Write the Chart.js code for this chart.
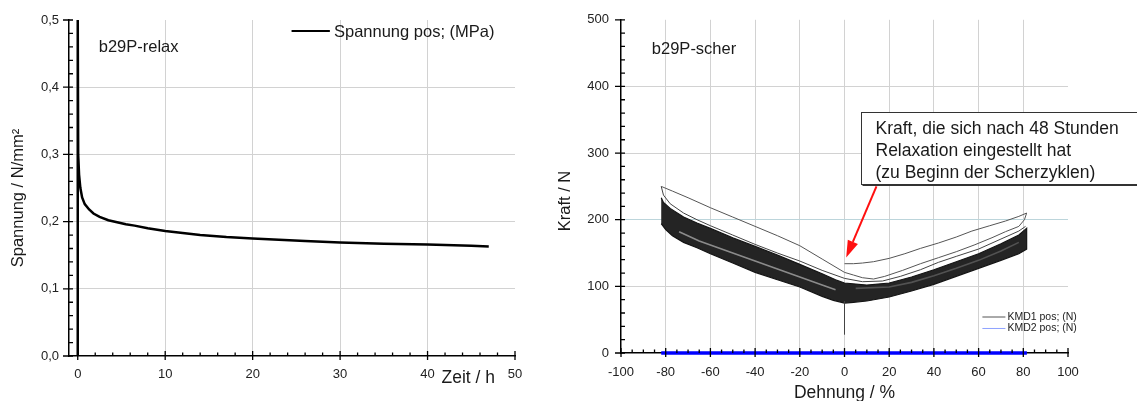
<!DOCTYPE html>
<html><head><meta charset="utf-8">
<script src="https://cdn.jsdelivr.net/npm/chart.js@4.4.1/dist/chart.umd.min.js"></script>
<style>
html,body{margin:0;padding:0;background:#fff;width:1137px;height:401px;overflow:hidden;}
canvas{position:absolute;top:0;}
#c1{left:0;} #c2{left:540px;}
</style></head><body>
<canvas id="c1" width="560" height="401"></canvas>
<canvas id="c2" width="597" height="401"></canvas>
<script>
// ---------- left panel: relaxation (Spannung vs Zeit) ----------
const relaxTime   = [0, 0, 0.05, 0.15, 0.3, 0.5, 0.8, 1.3, 1.8, 2.5, 3.5, 4.5, 5.5, 6.5, 8, 10, 12, 14, 17, 20, 23, 26, 30, 35, 40, 45, 47];
const relaxStress = [0, 0.5, 0.30, 0.27, 0.25, 0.236, 0.226, 0.218, 0.212, 0.207, 0.202, 0.199, 0.196, 0.194, 0.19, 0.186, 0.183, 0.18, 0.177, 0.175, 0.173, 0.171, 0.169, 0.167, 0.166, 0.164, 0.163];
const relaxXTicks = [0, 10, 20, 30, 40, 50];
const relaxXTickLabels = ['0', '10', '20', '30', '40', '50'];
const relaxYTicks = [0, 0.1, 0.2, 0.3, 0.4, 0.5];
const relaxYTickLabels = ['0,0', '0,1', '0,2', '0,3', '0,4', '0,5'];

// ---------- right panel: shear cycles (Kraft vs Dehnung) ----------
const shearXTicks = [-100, -80, -60, -40, -20, 0, 20, 40, 60, 80, 100];
const shearXTickLabels = ['-100', '-80', '-60', '-40', '-20', '0', '20', '40', '60', '80', '100'];
const shearYTicks = [0, 100, 200, 300, 400, 500];
const shearYTickLabels = ['0', '100', '200', '300', '400', '500'];

// first cycle after 48 h relaxation
const firstLoopStrain = [0, 4, 8, 13, 20, 27, 34, 42, 50, 57, 65, 72, 78, 81.5, 80.5, 78, 72, 66, 58, 50, 42, 34, 26, 18, 13, 8, 4, 0, -10, -20, -30, -40, -50, -60, -70, -77, -82];
const firstLoopForce  = [134, 134, 135, 137, 142, 149, 157, 165, 174, 183, 191, 198, 205, 210, 200, 190, 182, 173, 162, 152, 143, 134, 124, 115, 111, 113, 117, 121, 141, 161, 176, 190, 204, 218, 233, 243, 250];
// second cycle (thin line just above the dense band)
const secondLoopStrain = [-82, -81, -78, -72, -66, -60, -50, -40, -30, -20, -10, 0, 8, 17, 25, 34, 42, 50, 60, 70, 78, 81];
const secondLoopForce  = [250, 237, 224, 210, 200, 191, 177, 163, 150, 138, 124, 112, 107, 108, 115, 125, 136, 145, 156, 171, 183, 190];
// outline of the dense band of the remaining cycles
const bandStrain = [-82, -81, -78, -72, -66, -60, -50, -40, -30, -20, -10, -4, 0, 10, 20, 30, 40, 50, 60, 70, 78, 81.5, 81.5, 78, 70, 60, 50, 40, 30, 20, 10, 4, 0, -5, -10, -20, -30, -40, -50, -60, -66, -72, -77, -80, -82];
const bandForce  = [233, 226, 217, 204, 195, 187, 173, 160, 147, 133, 119, 110, 105, 102, 105, 114, 125, 137, 149, 164, 177, 187, 156, 149, 139, 127, 115, 103, 93, 84, 78, 76, 75, 79, 85, 99, 110, 121, 135, 149, 158, 166, 176, 185, 194];
// lighter streaks inside the band
const streakLeftStrain = [-74, -65, -60, -50, -40, -30, -20, -10, -4];
const streakLeftForce  = [182, 168, 162, 150, 138, 126, 114, 102, 95];
const streakRightStrain = [5, 20, 30, 40, 50, 60, 70, 78];
const streakRightForce  = [97, 99, 106, 116, 127, 139, 153, 166];
// short vertical trace at 0 %
const endStrain = [0, 0];
const endForce  = [78, 28];
// KMD2 channel
const kmd2Strain = [-82, 81.6];
const kmd2Force  = [0, 0];

const annotationLines = ['Kraft, die sich nach 48 Stunden', 'Relaxation eingestellt hat', '(zu Beginn der Scherzyklen)'];

const FONT = '"Liberation Sans", Arial, Helvetica, sans-serif';
Chart.defaults.font.family = FONT;

const toXY = (xs, ys) => xs.map((x, i) => ({ x, y: ys[i] }));

function subTicks(majors, n) {
  const out = [];
  for (let i = 0; i < majors.length - 1; i++) {
    const a = majors[i], b = majors[i + 1];
    for (let k = 1; k < n; k++) out.push(a + (b - a) * k / n);
  }
  return out;
}

function decorPlugin(spec) {
  return {
    id: 'decor',
    afterDraw(chart) {
      const { ctx, chartArea: ca, scales: { x, y } } = chart;
      ctx.save();
      ctx.strokeStyle = '#000';
      ctx.lineWidth = 1.3;
      ctx.beginPath();
      spec.xMajor.forEach(v => { const p = x.getPixelForValue(v); ctx.moveTo(p, ca.bottom - 5); ctx.lineTo(p, ca.bottom + 4); });
      subTicks(spec.xMajor, spec.xSub).forEach(v => { const p = x.getPixelForValue(v); ctx.moveTo(p, ca.bottom - 3.5); ctx.lineTo(p, ca.bottom); });
      spec.yMajor.forEach(v => { const p = y.getPixelForValue(v); ctx.moveTo(ca.left - 6, p); ctx.lineTo(ca.left + 4, p); });
      subTicks(spec.yMajor, spec.ySub).forEach(v => { const p = y.getPixelForValue(v); ctx.moveTo(ca.left, p); ctx.lineTo(ca.left + 4, p); });
      ctx.stroke();
      ctx.restore();
      ctx.save();
      spec.extra(chart, ctx);
      ctx.restore();
    }
  };
}

function gridColor(hidden, special) {
  return c => {
    if (!c.tick) return 'rgba(0,0,0,0)';
    if (hidden.includes(c.tick.value)) return 'rgba(0,0,0,0)';
    if (special && special.values.includes(c.tick.value)) return special.color;
    return '#d2d2d2';
  };
}

// ---------------- left chart ----------------
new Chart(document.getElementById('c1'), {
  type: 'line',
  data: {
    datasets: [{
      label: 'Spannung pos; (MPa)',
      data: toXY(relaxTime, relaxStress),
      borderColor: '#000', borderWidth: 2.5, pointRadius: 0, tension: 0, fill: false
    }]
  },
  options: {
    responsive: false, animation: false, devicePixelRatio: 1,
    layout: { padding: { left: 0, right: 45, top: 20, bottom: 0 } },
    plugins: { legend: { display: false }, tooltip: { enabled: false } },
    scales: {
      x: {
        type: 'linear', min: -1, max: 50,
        afterBuildTicks: s => { s.ticks = relaxXTicks.map(v => ({ value: v })); },
        afterFit: s => { s.height = 45; },
        ticks: { callback: (v, i) => relaxXTickLabels[i], font: { size: 13 }, color: '#222', padding: 11, maxRotation: 0, autoSkip: false },
        grid: { color: gridColor([0, 50]), lineWidth: 1, drawTicks: false },
        border: { display: true, color: '#000', width: 1.5 }
      },
      y: {
        type: 'linear', min: 0, max: 0.5,
        afterBuildTicks: s => { s.ticks = relaxYTicks.map(v => ({ value: v })); },
        afterFit: s => { s.width = 69; },
        ticks: { callback: (v, i) => relaxYTickLabels[i], font: { size: 13 }, color: '#222', padding: 10, autoSkip: false },
        grid: { color: gridColor([0, 0.5]), lineWidth: 1, drawTicks: false },
        border: { display: true, color: '#000', width: 1.5 }
      }
    }
  },
  plugins: [decorPlugin({
    xMajor: relaxXTicks, xSub: 5, yMajor: relaxYTicks, ySub: 5,
    extra(chart, ctx) {
      const { chartArea: ca, scales: { x, y } } = chart;
      ctx.fillStyle = '#1a1a1a';
      ctx.textBaseline = 'alphabetic';
      ctx.textAlign = 'left';
      ctx.font = '16.5px ' + FONT;
      ctx.fillText('b29P-relax', x.getPixelForValue(2.4), y.getPixelForValue(0.452));
      // legend
      const ly = y.getPixelForValue(0.4836);
      ctx.strokeStyle = '#000'; ctx.lineWidth = 2;
      ctx.beginPath(); ctx.moveTo(x.getPixelForValue(24.45), ly); ctx.lineTo(x.getPixelForValue(28.83), ly); ctx.stroke();
      ctx.textBaseline = 'middle';
      ctx.fillText('Spannung pos; (MPa)', x.getPixelForValue(29.3), ly + 1);
      // x title
      ctx.textBaseline = 'alphabetic';
      ctx.font = '17.5px ' + FONT;
      ctx.fillText('Zeit / h', x.getPixelForValue(41.6), ca.bottom + 27);
      // y title
      ctx.save();
      ctx.translate(18, 198);
      ctx.rotate(-Math.PI / 2);
      ctx.textAlign = 'center'; ctx.textBaseline = 'middle';
      ctx.font = '16.5px ' + FONT;
      ctx.fillText('Spannung / N/mm²', 0, 0);
      ctx.restore();
    }
  })]
});

// ---------------- right chart ----------------
const lineDs = (label, xs, ys, color, width, order, extra) => Object.assign({
  label, data: toXY(xs, ys), borderColor: color, borderWidth: width, pointRadius: 0, tension: 0, fill: false, order
}, extra || {});

new Chart(document.getElementById('c2'), {
  type: 'line',
  data: {
    datasets: [
      lineDs('KMD2 pos; (N)', kmd2Strain, kmd2Force, '#0000ff', 3.5, 0, { clip: 6 }),
      lineDs('streak L', streakLeftStrain, streakLeftForce, 'rgba(150,150,150,0.9)', 1.6, 1),
      lineDs('streak R', streakRightStrain, streakRightForce, 'rgba(120,120,120,0.55)', 1.6, 1),
      lineDs('KMD1 first', firstLoopStrain, firstLoopForce, '#555', 1, 2),
      lineDs('KMD1 second', secondLoopStrain, secondLoopForce, '#444', 1, 2),
      lineDs('KMD1 end', endStrain, endForce, '#444', 1, 2),
      lineDs('KMD1 pos; (N)', bandStrain, bandForce, '#151515', 1.2, 3, { fill: 'shape', backgroundColor: '#242424' })
    ]
  },
  options: {
    responsive: false, animation: false, devicePixelRatio: 1,
    layout: { padding: { left: 0, right: 69, top: 17, bottom: 0 } },
    plugins: { legend: { display: false }, tooltip: { enabled: false } },
    scales: {
      x: {
        type: 'linear', min: -100, max: 100,
        afterBuildTicks: s => { s.ticks = shearXTicks.map(v => ({ value: v })); },
        afterFit: s => { s.height = 48; },
        ticks: { callback: (v, i) => shearXTickLabels[i], font: { size: 13 }, color: '#222', padding: 12, maxRotation: 0, autoSkip: false },
        grid: { color: gridColor([-100, 100]), lineWidth: 1, drawTicks: false },
        border: { display: true, color: '#000', width: 1.5 }
      },
      y: {
        type: 'linear', min: 0, max: 500,
        afterBuildTicks: s => { s.ticks = shearYTicks.map(v => ({ value: v })); },
        afterFit: s => { s.width = 81; },
        ticks: { callback: (v, i) => shearYTickLabels[i], font: { size: 13 }, color: '#222', padding: 12, autoSkip: false },
        grid: { color: gridColor([0, 500], { values: [200], color: '#bcd5db' }), lineWidth: 1, drawTicks: false },
        border: { display: true, color: '#000', width: 1.5 }
      }
    }
  },
  plugins: [decorPlugin({
    xMajor: shearXTicks, xSub: 4, yMajor: shearYTicks, ySub: 5,
    extra(chart, ctx) {
      const { chartArea: ca, scales: { x, y }, width } = chart;
      ctx.fillStyle = '#1a1a1a';
      ctx.textAlign = 'left';
      ctx.textBaseline = 'alphabetic';
      ctx.font = '16.5px ' + FONT;
      ctx.fillText('b29P-scher', x.getPixelForValue(-86.2), y.getPixelForValue(448));
      // annotation box
      const bx = Math.round(x.getPixelForValue(7.2)) + 0.5;
      const by = Math.round(y.getPixelForValue(362)) + 0.5;
      const bb = Math.round(y.getPixelForValue(254)) + 0.5;
      ctx.fillStyle = '#fff';
      ctx.fillRect(bx, by, width - bx + 5, bb - by);
      ctx.strokeStyle = '#333'; ctx.lineWidth = 1;
      ctx.strokeRect(bx, by, width - bx + 5, bb - by);
      ctx.beginPath(); ctx.moveTo(bx + 1, bb + 1); ctx.lineTo(width, bb + 1); ctx.stroke();
      ctx.fillStyle = '#1a1a1a';
      ctx.font = '17.5px ' + FONT;
      annotationLines.forEach((t, i) => ctx.fillText(t, bx + 14, by + 21 + i * 22));
      // red arrow
      const ax0 = x.getPixelForValue(14.3), ay0 = y.getPixelForValue(250);
      const ax1 = x.getPixelForValue(0.76), ay1 = y.getPixelForValue(143.3);
      const ang = Math.atan2(ay1 - ay0, ax1 - ax0);
      const hl = 17, hw = 5.5;
      const baseX = ax1 - hl * Math.cos(ang), baseY = ay1 - hl * Math.sin(ang);
      ctx.strokeStyle = '#ff1010'; ctx.fillStyle = '#ff1010'; ctx.lineWidth = 2;
      ctx.beginPath(); ctx.moveTo(ax0, ay0); ctx.lineTo(baseX, baseY); ctx.stroke();
      ctx.beginPath();
      ctx.moveTo(ax1, ay1);
      ctx.lineTo(baseX + hw * Math.sin(ang), baseY - hw * Math.cos(ang));
      ctx.lineTo(baseX - hw * Math.sin(ang), baseY + hw * Math.cos(ang));
      ctx.closePath(); ctx.fill();
      // legend
      ctx.font = '10.5px ' + FONT;
      ctx.textBaseline = 'middle';
      const l1 = y.getPixelForValue(54), l2 = y.getPixelForValue(36.8);
      ctx.lineWidth = 1;
      ctx.strokeStyle = '#555';
      ctx.beginPath(); ctx.moveTo(x.getPixelForValue(61.7), l1); ctx.lineTo(x.getPixelForValue(72), l1); ctx.stroke();
      ctx.strokeStyle = '#8ea2ff';
      ctx.beginPath(); ctx.moveTo(x.getPixelForValue(61.7), l2); ctx.lineTo(x.getPixelForValue(72), l2); ctx.stroke();
      ctx.fillStyle = '#222';
      ctx.fillText('KMD1 pos; (N)', x.getPixelForValue(72.9), l1);
      ctx.fillText('KMD2 pos; (N)', x.getPixelForValue(72.9), l2);
      // x title
      ctx.fillStyle = '#1a1a1a';
      ctx.font = '17.5px ' + FONT;
      ctx.textAlign = 'center';
      ctx.textBaseline = 'alphabetic';
      ctx.fillText('Dehnung / %', x.getPixelForValue(0), ca.bottom + 45);
      // y title
      ctx.save();
      ctx.translate(25, 201);
      ctx.rotate(-Math.PI / 2);
      ctx.textAlign = 'center'; ctx.textBaseline = 'middle';
      ctx.font = '16.5px ' + FONT;
      ctx.fillText('Kraft / N', 0, 0);
      ctx.restore();
    }
  })]
});
</script>
</body></html>
